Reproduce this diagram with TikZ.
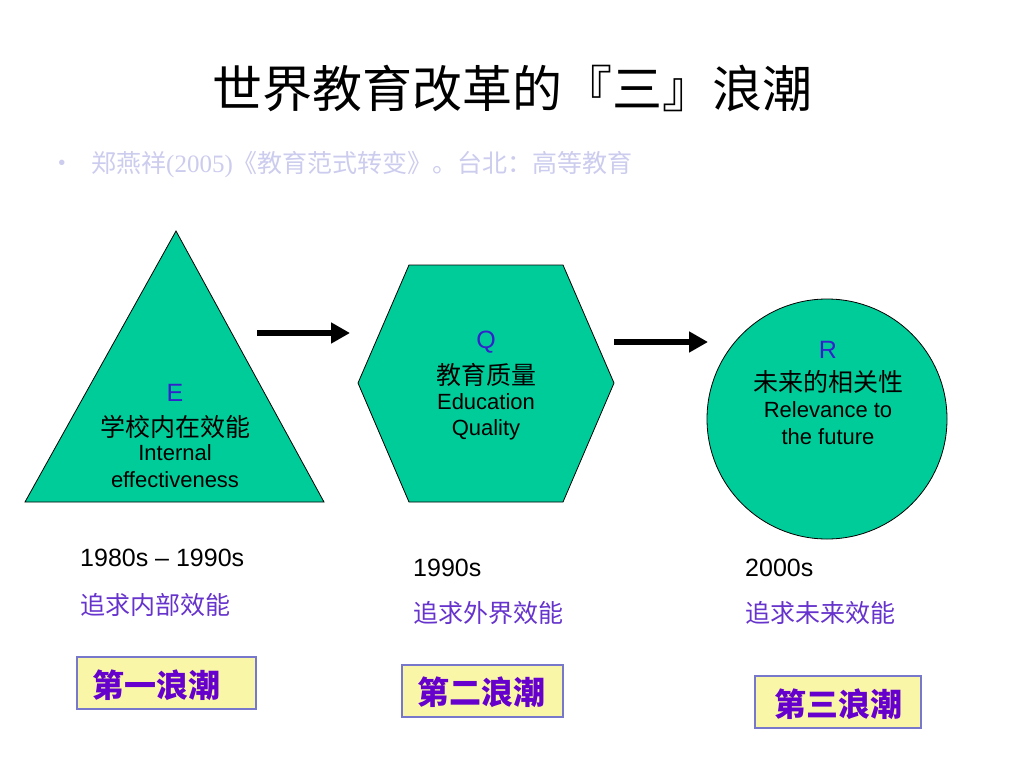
\documentclass[tikz,border=0pt]{standalone}
\usepackage{fontspec}
\setmainfont{Liberation Sans}
\newfontfamily\cjk{Noto Sans CJK SC}
\newfontfamily\serifrm{Liberation Serif}
\usetikzlibrary{arrows.meta}
\definecolor{shapegreen}{HTML}{00CC99}
\definecolor{letterblue}{HTML}{3322CC}
\definecolor{aimpurple}{HTML}{6633CC}
\definecolor{wavepurple}{HTML}{6600CC}
\definecolor{wavefill}{HTML}{FAF6A8}
\definecolor{waveborder}{HTML}{7777CC}
\definecolor{subgray}{HTML}{CCCCEE}
\tikzset{
  shapefill/.style={fill=shapegreen,draw=black,line width=0.8pt,line join=miter},
  txt/.style={inner sep=0pt,font=\fontsize{22}{26}\selectfont},
  cjktxt/.style={inner sep=0pt,font=\cjk\fontsize{25}{28}\selectfont},
  letter/.style={inner sep=0pt,text=letterblue,font=\fontsize{25}{28}\selectfont},
  yeartxt/.style={inner sep=0pt,anchor=west,font=\fontsize{25}{28}\selectfont},
  aimtxt/.style={inner sep=0pt,anchor=west,text=aimpurple,font=\cjk\fontsize{25}{28}\selectfont},
  wavebox/.style={draw=waveborder,line width=1.2pt,fill=wavefill},
  wavetxt/.style={inner sep=0pt,text=wavepurple,font=\cjk\bfseries\fontsize{32}{35}\selectfont},
  bigarrow/.style={line width=6pt,-{Triangle[length=19pt,width=20pt]}}
}
\begin{document}
\begin{tikzpicture}[x=1pt,y=-1pt]
\useasboundingbox[fill=white] (0,0) rectangle (1024,768);

% title
\node[inner sep=0pt,font=\cjk\fontsize{50}{54}\selectfont] (title) at (512,88) {世界教育改革的『三』浪潮};
% subtitle
\node[inner sep=0pt,text=subgray,font=\fontsize{20}{24}\selectfont] (bullet) at (62,165) {•};
\node[inner sep=0pt,anchor=west,text=subgray,font=\cjk\fontsize{25}{28}\selectfont] (ref) at (91,165) {郑燕祥{\serifrm (2005)}《教育范式转变》。台北：高等教育};

% shapes
\draw[shapefill] (176,231) -- (324,502) -- (25,502) -- cycle;
\draw[shapefill] (409,265) -- (563,265) -- (614,383) -- (563,502) -- (409,502) -- (358,383) -- cycle;
\draw[shapefill] (827,419) circle[radius=120];

% texts in shapes
\node[letter] (E) at (175,393) {E};
\node[cjktxt] (Ezh) at (175,427) {学校内在效能};
\node[txt] (Een1) at (175,453) {Internal};
\node[txt] (Een2) at (175,480) {effectiveness};

\node[letter] (Q) at (486,342) {Q};
\node[cjktxt] (Qzh) at (486,375) {教育质量};
\node[txt] (Qen1) at (486,402) {Education};
\node[txt] (Qen2) at (486,430) {Quality};

\node[letter] (R) at (828,350) {R};
\node[cjktxt] (Rzh) at (828,382) {未来的相关性};
\node[txt] (Ren1) at (828,410) {Relevance to};
\node[txt] (Ren2) at (828,437) {the future};

% arrows
\coordinate (a1s) at (257,333);
\coordinate (a1e) at (350,333);
\coordinate (a2s) at (614,342);
\coordinate (a2e) at (708,342);
\draw[bigarrow] (a1s) -- (a1e);
\draw[bigarrow] (a2s) -- (a2e);

% years
\node[yeartxt] (y1) at (80,558) {1980s – 1990s};
\node[aimtxt] (g1) at (80,605) {追求内部效能};
\node[yeartxt] (y2) at (413,568) {1990s};
\node[aimtxt] (g2) at (413,613) {追求外界效能};
\node[yeartxt] (y3) at (745,568) {2000s};
\node[aimtxt] (g3) at (745,613) {追求未来效能};

% wave boxes
\draw[wavebox] (77,657) rectangle (256,709);
\node[wavetxt] (w1) at (156,685) {第一浪潮};
\draw[wavebox] (402,665) rectangle (563,717);
\node[wavetxt] (w2) at (481,692) {第二浪潮};
\draw[wavebox] (755,676) rectangle (921,728);
\node[wavetxt] (w3) at (838,704) {第三浪潮};
\end{tikzpicture}
\end{document}
